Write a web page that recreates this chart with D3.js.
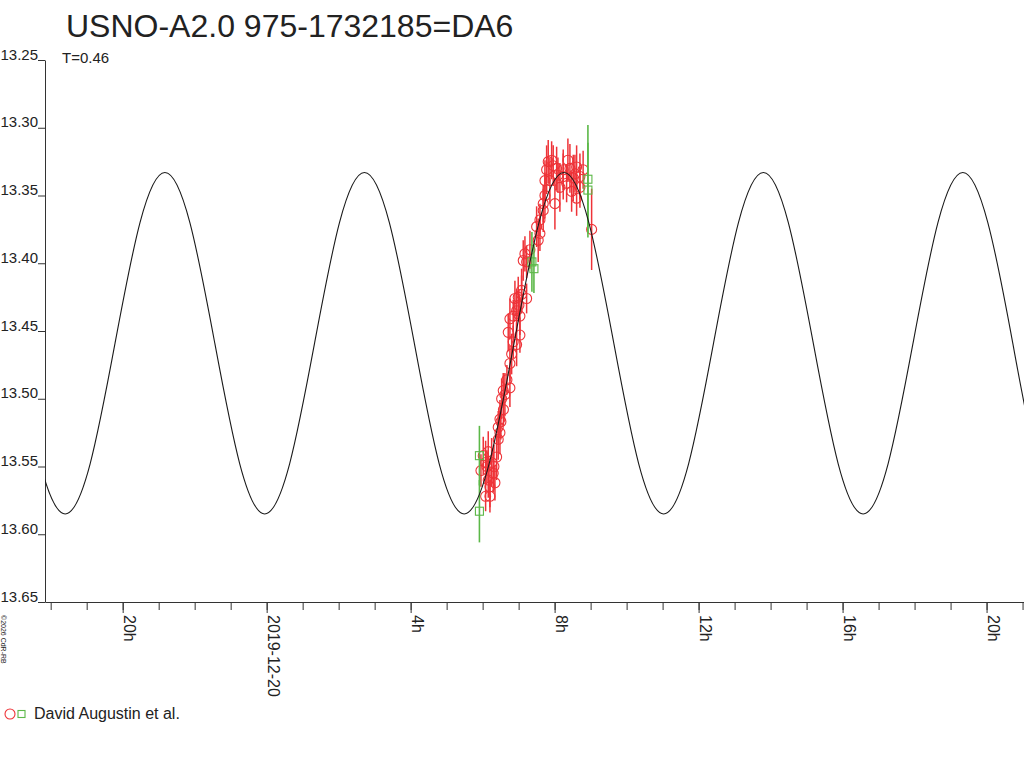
<!DOCTYPE html>
<html><head><meta charset="utf-8">
<script src="https://cdn.jsdelivr.net/npm/d3@7"></script>
<style>body{margin:0;background:#fff}svg{display:block;font-family:"Liberation Sans",Arial,sans-serif}</style>
</head><body><svg id="c" width="1024" height="768"></svg>
<script>
const title = "USNO-A2.0 975-1732185=DA6";
const subtitle = "T=0.46";
const legendLabel = "David Augustin et al.";
const credit = "©2026 CdR-RB";

const yTickValues = [13.25,13.30,13.35,13.40,13.45,13.50,13.55,13.60,13.65];
const xMajorHours = [-4,0,4,8,12,16,20];
const xMajorLabels = ["20h","2019-12-20","4h","8h","12h","16h","20h"];
const xMinorHours = [-6,-5,-4,-3,-2,-1,0,1,2,3,4,5,6,7,8,9,10,11,12,13,14,15,16,17,18,19,20,21];

// model light curve (hours from 2019-12-20 00h, magnitude)
const curveHours = [-6.983,-6.290,-5.597,-4.904,-4.212,-3.519,-2.826,-2.133,-1.441,-0.748,-0.055,0.638,1.331,2.023,2.716,3.409,4.102,4.794,5.487,6.180,6.873,7.565,8.258,8.951,9.644,10.336,11.029,11.722,12.415,13.107,13.800,14.493,15.186,15.878,16.571,17.264,17.957,18.649,19.342,20.035,20.728,21.420,22.113];
const curveMags = [13.459,13.548,
13.585,13.548,13.459,13.370,13.333,13.370,13.459,13.548,
13.585,13.548,13.459,13.370,13.333,13.370,13.459,13.548,
13.585,13.548,13.459,13.370,13.333,13.370,13.459,13.548,
13.585,13.548,13.459,13.370,13.333,13.370,13.459,13.548,
13.585,13.548,13.459,13.370,13.333,13.370,13.459,13.548,
13.585];

// observations (red circles)
const redHours = [5.953,6.017,6.083,6.083,6.156,6.156,6.119,6.203,6.203,6.250,6.294,6.314,6.342,6.389,6.433,6.433,6.481,6.508,6.481,6.528,6.572,6.578,6.619,6.675,6.758,6.758,6.806,6.850,6.944,6.711,7.036,6.758,6.850,7.036,6.944,6.897,6.989,7.008,7.083,7.222,7.083,7.175,7.128,7.222,7.314,7.544,7.592,7.500,7.592,7.683,7.683,7.731,7.731,7.778,7.822,7.917,7.869,7.961,8.008,8.056,8.092,8.147,8.239,8.239,8.333,8.369,8.425,8.472,8.517,8.564,8.611,8.611,8.703,8.703,8.792,9.028];
const redMags = [13.553,13.542,13.547,13.572,13.539,13.560,13.550,13.565,13.572,13.547,13.555,13.550,13.562,13.543,13.530,13.521,13.525,13.517,13.515,13.500,13.494,13.508,13.497,13.486,13.492,13.474,13.467,13.458,13.460,13.451,13.453,13.441,13.439,13.439,13.435,13.426,13.425,13.431,13.423,13.426,13.420,13.393,13.398,13.399,13.390,13.383,13.378,13.373,13.368,13.361,13.356,13.350,13.339,13.331,13.325,13.324,13.339,13.328,13.356,13.330,13.335,13.344,13.331,13.336,13.341,13.324,13.330,13.347,13.337,13.334,13.329,13.352,13.336,13.344,13.331,13.375];
const redErrs = [0.012,0.014,0.016,0.011,0.015,0.013,0.012,0.015,0.012,0.018,0.014,0.016,0.013,0.017,0.015,0.012,0.016,0.013,0.014,0.015,0.013,0.012,0.016,0.011,0.014,0.013,0.015,0.012,0.016,0.014,0.013,0.015,0.012,0.014,0.016,0.013,0.015,0.012,0.014,0.011,0.016,0.013,0.015,0.012,0.014,0.016,0.013,0.015,0.012,0.016,0.014,0.017,0.015,0.018,0.016,0.014,0.017,0.015,0.019,0.016,0.013,0.018,0.015,0.017,0.014,0.016,0.018,0.015,0.017,0.014,0.016,0.013,0.017,0.015,0.014,0.030];

// observations (green squares)
const greenHours = [5.911,5.911,7.369,7.425,8.925,8.925];
const greenMags = [13.542,13.583,13.399,13.404,13.338,13.346];
const greenErrs = [0.022,0.023,0.022,0.018,0.040,0.035];

const RED = "#ee3338", GREEN = "#5cb848", AX = "#333";
const svg = d3.select("#c");
const x = d3.scaleLinear().domain([-6.158, 21.04]).range([45, 1024]);
const y = d3.scaleLinear().domain([13.25, 13.65]).range([60, 602]);

svg.append("defs").append("clipPath").attr("id","plot")
  .append("rect").attr("x",45).attr("y",0).attr("width",979).attr("height",602);

// title
svg.append("text").attr("x",66).attr("y",37).attr("font-size",32).attr("fill","#222").text(title);
svg.append("text").attr("x",62).attr("y",63).attr("font-size",15).attr("fill","#222").text(subtitle);

// y axis
const gy = svg.append("g").attr("transform","translate(45,0)")
  .call(d3.axisLeft(y).tickValues(yTickValues).tickFormat(d3.format(".2f")).tickSize(7).tickSizeOuter(0));
gy.select(".domain").attr("stroke",AX);
gy.selectAll(".tick line").attr("stroke",AX);
gy.selectAll(".tick text").attr("x",-7).attr("dy","0").attr("y",-1)
  .attr("font-size",15).attr("font-family","Liberation Sans, Arial, sans-serif").attr("fill","#222");

// x axis minor
const gxm = svg.append("g").attr("transform","translate(0,602)")
  .call(d3.axisBottom(x).tickValues(xMinorHours).tickFormat("").tickSize(8).tickSizeOuter(0));
gxm.select(".domain").attr("stroke",AX);
gxm.selectAll(".tick line").attr("stroke",AX);
// x axis major
const gx = svg.append("g").attr("transform","translate(0,602)")
  .call(d3.axisBottom(x).tickValues(xMajorHours).tickFormat((d,i)=>xMajorLabels[i]).tickSize(11).tickSizeOuter(0));
gx.select(".domain").remove();
gx.selectAll(".tick line").attr("stroke",AX);
gx.selectAll(".tick text")
  .attr("y",0).attr("dy","0")
  .attr("transform","translate(1,13) rotate(90)")
  .attr("text-anchor","start")
  .attr("font-size",16).attr("font-family","Liberation Sans, Arial, sans-serif").attr("fill","#222");

// credit
svg.append("text").attr("transform","translate(1,615) rotate(90)").attr("font-size",7).attr("fill","#222").text(credit);

const plot = svg.append("g").attr("clip-path","url(#plot)");

// red points
const red = redHours.map((h,i)=>({h, m:redMags[i], e:redErrs[i]}));
plot.selectAll("line.re").data(red).join("line").attr("class","re")
  .attr("x1",d=>x(d.h)).attr("x2",d=>x(d.h))
  .attr("y1",d=>y(d.m-d.e)).attr("y2",d=>y(d.m+d.e))
  .attr("stroke",RED).attr("stroke-width",1.5);
plot.selectAll("circle.rc").data(red).join("circle").attr("class","rc")
  .attr("cx",d=>x(d.h)).attr("cy",d=>y(d.m)).attr("r",5)
  .attr("fill","none").attr("stroke",RED).attr("stroke-width",1.1);

// green points
const green = greenHours.map((h,i)=>({h, m:greenMags[i], e:greenErrs[i]}));
plot.selectAll("line.ge").data(green).join("line").attr("class","ge")
  .attr("x1",d=>x(d.h)).attr("x2",d=>x(d.h))
  .attr("y1",d=>y(d.m-d.e)).attr("y2",d=>y(d.m+d.e))
  .attr("stroke",GREEN).attr("stroke-width",1.6);
plot.selectAll("rect.gr").data(green).join("rect").attr("class","gr")
  .attr("x",d=>x(d.h)-4).attr("y",d=>y(d.m)-4).attr("width",8).attr("height",8)
  .attr("fill","none").attr("stroke",GREEN).attr("stroke-width",1.1);

// model curve
const line = d3.line().x((d,i)=>x(curveHours[i])).y(d=>y(d)).curve(d3.curveNatural);
plot.append("path").attr("d",line(curveMags)).attr("fill","none").attr("stroke","#1a1a1a").attr("stroke-width",1.1);

// legend
svg.append("circle").attr("cx",10).attr("cy",714).attr("r",5).attr("fill","none").attr("stroke",RED).attr("stroke-width",1.1);
svg.append("rect").attr("x",18).attr("y",710.5).attr("width",7).attr("height",7).attr("fill","none").attr("stroke",GREEN).attr("stroke-width",1.1);
svg.append("text").attr("x",34).attr("y",719).attr("font-size",16).attr("fill","#222").text(legendLabel);
</script></body></html>
